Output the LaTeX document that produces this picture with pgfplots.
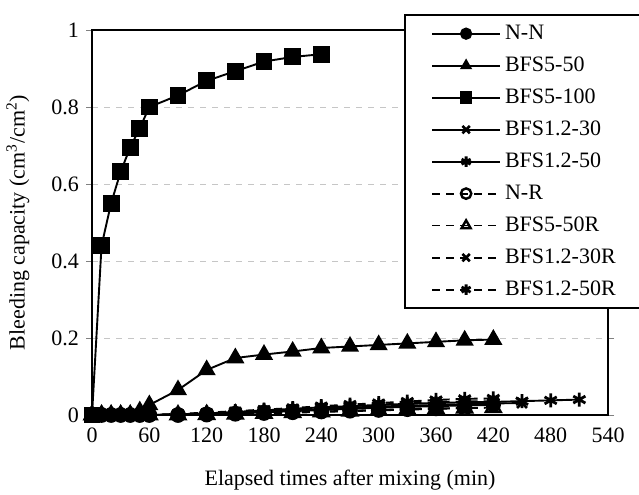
\documentclass[border=0pt]{standalone}
\usepackage{fontspec}
\setmainfont{Liberation Serif}
\usepackage{pgfplots}
\pgfplotsset{compat=1.18}
\usetikzlibrary{plotmarks}

\begin{document}
\begin{tikzpicture}[font=\fontsize{11}{13}\selectfont]
\begin{axis}[
    scale only axis,
    width=258pt, height=192.5pt,
    xmin=0, xmax=540, ymin=0, ymax=1,
    xtick={0,60,...,540},
    ytick={0,0.2,0.4,0.6,0.8,1},
    yticklabel style={/pgf/number format/fixed},
    /pgf/number format/assume math mode=true,
    xtick style={draw=none},
    tick align=outside,
    major tick length=3pt,
    ymajorgrids,
    grid style={dashed, gray!45, line width=0.4pt},
    axis line style={line width=1pt},
    xlabel={Elapsed times after mixing (min)},
    ylabel={Bleeding capacity (cm\textsuperscript{3}/cm\textsuperscript{2})},
    xlabel style={at={([yshift=-32.5pt]axis description cs:0.5,0)}, anchor=center},
    ylabel style={at={([xshift=-37pt]axis description cs:0,0.5)}, anchor=center},
    every axis plot/.append style={black, line width=0.95pt},
    legend cell align=left,
    legend style={at={(rel axis cs:1.075,1.0416)}, anchor=north east,
        draw=black, line width=1pt, fill=white,
        inner xsep=13pt, inner ysep=3pt, row sep=3.2pt,
        font=\fontsize{11}{13}\selectfont},
    legend image code/.code={
        \draw[mark repeat=2, mark phase=2] plot coordinates {(0pt,0pt) (17pt,0pt) (34pt,0pt)};},
    legend image post style={mark size=2.6pt},
]
\coordinate (bl) at (rel axis cs:0,0);
\coordinate (tr) at (rel axis cs:1,1);
% N-N
\addplot[mark=*, mark size=3.3pt] coordinates {
(0,0)(10,0)(20,0)(30,0)(40,0)(50,0)(60,0)(90,0)(120,0.002)(150,0.004)(180,0.007)(210,0.010)(240,0.013)(270,0.016)(300,0.019)(330,0.021)(360,0.023)(390,0.025)(420,0.026)};
\addlegendentry{N-N}
% BFS5-50
\addplot[mark=triangle*, mark size=4.3pt] coordinates {
(0,0)(10,0)(20,0)(30,0)(40,0)(50,0.010)(60,0.026)(90,0.065)(120,0.117)(150,0.148)(180,0.157)(210,0.165)(240,0.174)(270,0.178)(300,0.182)(330,0.186)(360,0.190)(390,0.194)(420,0.196)};
\addlegendentry{BFS5-50}
% BFS5-100
\addplot[mark=square*, mark size=3.75pt] coordinates {
(0,0)(10,0.44)(20,0.55)(30,0.632)(40,0.695)(50,0.745)(60,0.80)(90,0.83)(120,0.868)(150,0.893)(180,0.918)(210,0.93)(240,0.937)};
\addlegendentry{BFS5-100}
% BFS1.2-30
\addplot[mark=x, mark size=3.5pt, mark options={line width=1.3pt}] coordinates {
(0,0)(10,0)(20,0)(30,0)(40,0)(50,0)(60,0)(90,0.001)(120,0.003)(150,0.006)(180,0.009)(210,0.012)(240,0.016)(270,0.019)(300,0.022)(330,0.024)(360,0.026)(390,0.028)(420,0.030)(450,0.031)};
\addlegendentry{BFS1.2-30}
% BFS1.2-50
\addplot[mark=asterisk, mark size=3.5pt, mark options={line width=1.4pt}] coordinates {
(0,0)(10,0)(20,0)(30,0)(40,0)(50,0)(60,0)(90,0.002)(120,0.004)(150,0.008)(180,0.012)(210,0.016)(240,0.020)(270,0.023)(300,0.026)(330,0.029)(360,0.031)(390,0.033)(420,0.034)(450,0.036)(480,0.038)(510,0.040)};
\addlegendentry{BFS1.2-50}
% N-R
\addplot[dash pattern=on 4pt off 3pt, mark=o, mark size=3.3pt, mark options={solid, fill=white, line width=1.2pt}] coordinates {
(0,0)(10,0)(20,0)(30,0)(40,0)(50,0)(60,0)(90,0)(120,0.001)(150,0.003)(180,0.005)(210,0.007)(240,0.009)(270,0.011)(300,0.013)(330,0.015)(360,0.017)(390,0.018)};
\addlegendentry{N-R}
% BFS5-50R
\addplot[dash pattern=on 4pt off 3pt, mark=triangle, mark size=4.3pt, mark options={solid, fill=white, line width=1.2pt}] coordinates {
(0,0)(10,0)(20,0)(30,0)(40,0)(50,0)(60,0)(90,0)(120,0.001)(150,0.002)(180,0.004)(210,0.006)(240,0.008)(270,0.010)(300,0.012)(330,0.014)(360,0.016)(390,0.018)(420,0.019)};
\addlegendentry{BFS5-50R}
% BFS1.2-30R
\addplot[dash pattern=on 4pt off 3pt, mark=x, mark size=3.5pt, mark options={solid, line width=1.3pt}] coordinates {
(0,0)(10,0)(20,0)(30,0)(40,0)(50,0)(60,0)(90,0.002)(120,0.004)(150,0.007)(180,0.011)(210,0.015)(240,0.019)(270,0.023)(300,0.027)(330,0.030)(360,0.033)(390,0.035)(420,0.036)};
\addlegendentry{BFS1.2-30R}
% BFS1.2-50R
\addplot[dash pattern=on 4pt off 3pt, mark=asterisk, mark size=3.5pt, mark options={solid, line width=1.4pt}] coordinates {
(0,0)(10,0)(20,0)(30,0)(40,0)(50,0)(60,0)(90,0.003)(120,0.006)(150,0.010)(180,0.014)(210,0.018)(240,0.023)(270,0.027)(300,0.031)(330,0.035)(360,0.039)(390,0.042)(420,0.043)};
\addlegendentry{BFS1.2-50R}
\end{axis}
\pgfresetboundingbox
\path[use as bounding box] ([shift={(-46pt,-40pt)}]bl) rectangle ([shift={(15.5pt,15pt)}]tr);
\end{tikzpicture}
\end{document}
